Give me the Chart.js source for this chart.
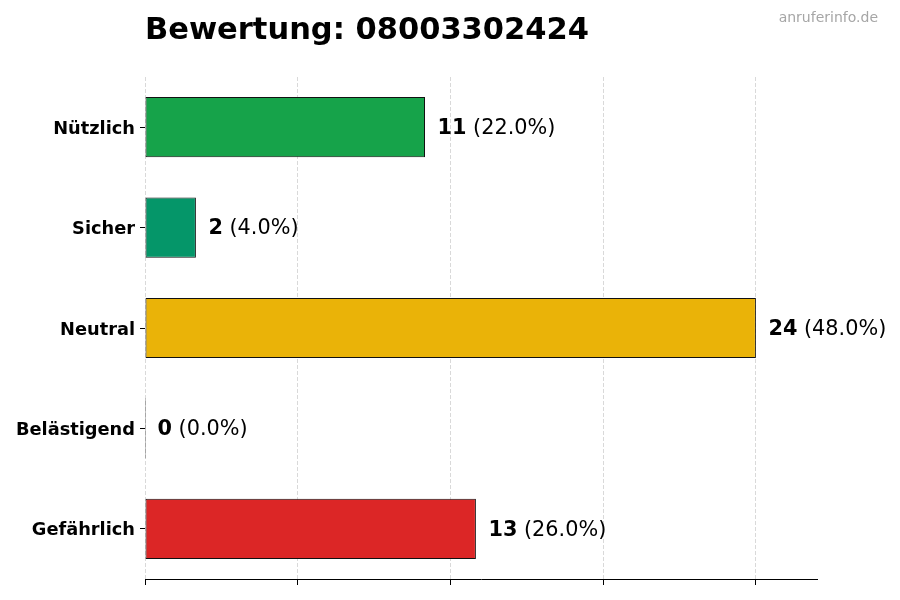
<!DOCTYPE html>
<html>
<head>
<meta charset="utf-8">
<script src="https://cdn.jsdelivr.net/npm/chart.js@4.4.1/dist/chart.umd.min.js"></script>
<style>
  body { margin: 0; background: #fff; }
  #wrap { width: 900px; height: 600px; }
</style>
</head>
<body>
<div id="wrap"><canvas id="myChart" width="900" height="600"></canvas></div>
<script>
// data
let categories = ['Nützlich', 'Sicher', 'Neutral', 'Belästigend', 'Gefährlich'];
let counts = [11, 2, 24, 0, 13];
let percents = ['22.0%', '4.0%', '48.0%', '0.0%', '26.0%'];
let barColors = ['#16a34a', '#059669', '#eab308', '#ea580c', '#dc2626'];
let xTicks = [0, 6, 12, 18, 24];

let titleText = 'Bewertung: 08003302424';
let watermark = 'anruferinfo.de';
let fontFamily = '"DejaVu Sans", sans-serif';

// labels next to bars + title
let labelPlugin = {
  id: 'labelPlugin',
  afterDatasetsDraw(chart) {
    let ctx = chart.ctx;
    let meta = chart.getDatasetMeta(0);
    let xScale = chart.scales.x;
    ctx.save();
    ctx.textBaseline = 'middle';
    meta.data.forEach(function (bar, i) {
      let x = xScale.getPixelForValue(counts[i]) + 12.5;
      ctx.font = 'bold 20.8px ' + fontFamily;
      ctx.fillStyle = '#000';
      ctx.textAlign = 'left';
      let num = String(counts[i]);
      ctx.fillText(num, x, bar.y + 1.5);
      let w = ctx.measureText(num).width;
      ctx.font = '20.8px ' + fontFamily;
      ctx.fillText(' (' + percents[i] + ')', x + w, bar.y + 1.5);
    });
    // title
    ctx.font = 'bold 30.5px ' + fontFamily;
    ctx.textAlign = 'left';
    ctx.fillText(titleText, 145, 31);
    // watermark
    ctx.font = '14px ' + fontFamily;
    ctx.fillStyle = '#a6a6a6';
    ctx.textAlign = 'right';
    ctx.fillText(watermark, 878, 18);
    ctx.restore();
  }
};

let ctx = document.getElementById('myChart').getContext('2d');
let myChart = new Chart(ctx, {
  type: 'bar',
  data: {
    labels: categories,
    datasets: [{
      data: counts,
      backgroundColor: barColors,
      borderColor: '#111',
      borderWidth: 1,
      borderSkipped: false,
      barPercentage: 0.6,
      categoryPercentage: 1,
      minBarLength: 1,
      clip: false
    }]
  },
  options: {
    indexAxis: 'y',
    responsive: false,
    animation: false,
    devicePixelRatio: 1,
    layout: { padding: { top: 77, right: 83, left: 0, bottom: 0 } },
    plugins: {
      legend: { display: false },
      tooltip: { enabled: false },
      title: { display: false }
    },
    scales: {
      x: {
        min: 0,
        max: 26.4,
        afterBuildTicks(scale) {
          scale.ticks = xTicks.map(v => ({ value: v }));
        },
        ticks: { display: false, includeBounds: false },
        grid: {
          color: '#d9d9d9',
          lineWidth: 1,
          drawTicks: true,
          tickLength: 6,
          tickColor: '#000',
          tickBorderDash: [],
          tickWidth: 1
        },
        border: { display: true, color: '#000', width: 1, dash: [4, 2] },
        afterFit(scale) { scale.height = 21; }
      },
      y: {
        grid: {
          display: true,
          offset: false,
          drawOnChartArea: false,
          drawTicks: true,
          tickLength: 5,
          tickColor: '#000'
        },
        border: { display: false },
        ticks: {
          color: '#000',
          padding: 5,
          labelOffset: 2,
          font: { family: fontFamily, size: 17.8, weight: 'bold' }
        },
        afterFit(scale) { scale.width = 145; }
      }
    }
  },
  plugins: [labelPlugin]
});
</script>
</body>
</html>
